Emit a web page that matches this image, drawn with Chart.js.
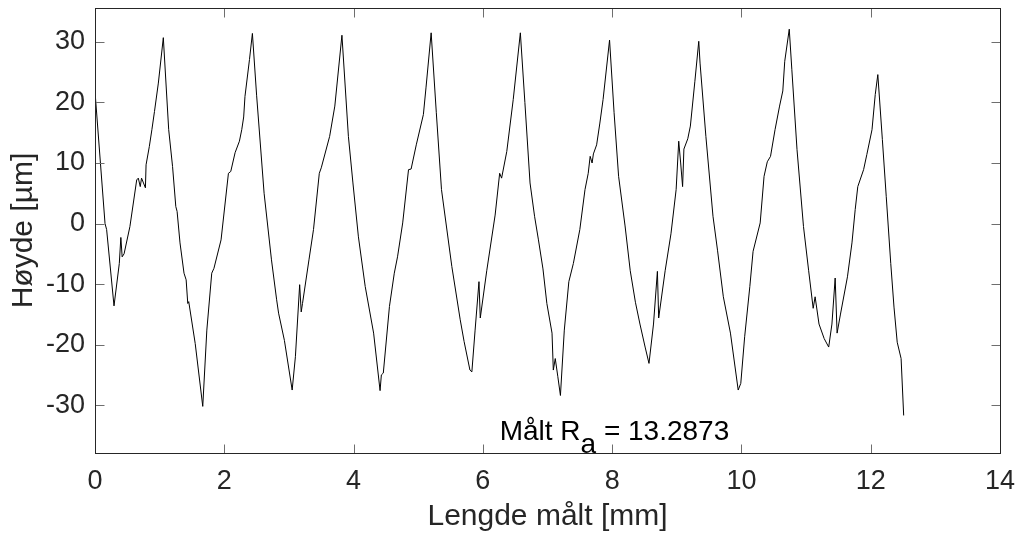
<!DOCTYPE html>
<html>
<head>
<meta charset="utf-8">
<script src="https://cdn.jsdelivr.net/npm/chart.js@4.4.1/dist/chart.umd.min.js"></script>
<style>
  html, body { margin: 0; padding: 0; background: #fff; }
  #wrap { width: 1019px; height: 535px; }
</style>
</head>
<body>
<div id="wrap"><canvas id="profil" width="1019" height="535"></canvas></div>
<script>
// Profilmåling: lengde (mm) og høyde (µm), lest av figuren
const lengdeMm = [
    0.00, 0.155, 0.18, 0.294, 0.376, 0.40, 0.42, 0.45, 0.54, 0.645,
    0.67, 0.70, 0.72, 0.75, 0.78, 0.79, 0.84, 0.88, 0.92, 0.98,
    1.057, 1.14, 1.20, 1.25, 1.27, 1.315, 1.377, 1.41, 1.435, 1.45,
    1.55, 1.667, 1.73, 1.806, 1.84, 1.95, 2.064, 2.10, 2.167, 2.234,
    2.27, 2.30, 2.32, 2.39, 2.435, 2.50, 2.616, 2.73, 2.81, 2.84,
    2.93, 3.05, 3.10, 3.166, 3.19, 3.21, 3.31, 3.38, 3.47, 3.50,
    3.63, 3.71, 3.82, 3.92, 3.99, 4.075, 4.18, 4.31, 4.41, 4.43,
    4.46, 4.555, 4.63, 4.68, 4.76, 4.85, 4.89, 4.97, 5.08, 5.12,
    5.20, 5.28, 5.36, 5.52, 5.65, 5.71, 5.80, 5.83, 5.88, 5.94,
    5.96, 6.06, 6.19, 6.26, 6.29, 6.37, 6.47, 6.58, 6.65, 6.73,
    6.80, 6.86, 6.93, 6.99, 7.07, 7.09, 7.12, 7.16, 7.20, 7.26,
    7.33, 7.40, 7.50, 7.58, 7.63, 7.66, 7.69, 7.71, 7.76, 7.81,
    7.86, 7.96, 8.03, 8.10, 8.20, 8.28, 8.36, 8.43, 8.51, 8.57,
    8.64, 8.70, 8.72, 8.82, 8.91, 8.99, 9.03, 9.06, 9.09, 9.11,
    9.17, 9.21, 9.28, 9.34, 9.36, 9.45, 9.56, 9.63, 9.72, 9.83,
    9.95, 9.99, 10.05, 10.13, 10.18, 10.29, 10.35, 10.40, 10.45, 10.52,
    10.59, 10.64, 10.67, 10.74, 10.78, 10.86, 10.96, 11.04, 11.11, 11.14,
    11.20, 11.28, 11.35, 11.40, 11.45, 11.48, 11.53, 11.64, 11.71, 11.76,
    11.80, 11.89, 11.94, 12.02, 12.07, 12.11, 12.18, 12.24, 12.31, 12.36,
    12.41, 12.47, 12.51
];
const hoydeUm = [
    21.8, 0.0, -1.0, -13.6, -6.6, -2.3, -5.5, -5.0, -0.5, 7.2,
    7.5, 6.1, 7.5, 6.7, 5.9, 9.7, 12.7, 15.5, 18.5, 23.2,
    30.7, 15.5, 9.4, 2.8, 2.0, -3.2, -8.2, -9.3, -13.2, -12.9,
    -19.8, -30.2, -17.6, -8.2, -7.4, -2.7, 8.3, 8.6, 11.7, 13.6,
    15.5, 17.6, 21.0, 27.1, 31.4, 21.2, 5.0, -6.0, -12.6, -14.8,
    -19.3, -27.5, -22.0, -10.1, -14.6, -13.2, -6.0, -1.0, 8.3, 9.2,
    14.4, 19.4, 31.1, 14.4, 6.7, -2.2, -10.4, -18.1, -27.6, -25.0,
    -24.7, -13.7, -8.2, -5.5, 0.1, 8.9, 9.0, 13.0, 18.0, 22.4,
    31.5, 18.3, 5.6, -7.1, -15.9, -19.5, -24.2, -24.5, -17.6, -9.6,
    -15.6, -7.8, 1.4, 8.3, 7.5, 11.9, 20.5, 31.5, 20.0, 6.7,
    1.2, -2.7, -7.5, -13.2, -18.1, -24.2, -22.3, -25.3, -28.4, -17.6,
    -9.6, -6.6, -1.0, 5.6, 8.3, 11.1, 10.0, 11.5, 13.0, 16.6,
    20.5, 30.3, 18.3, 7.8, -0.4, -7.8, -13.0, -16.6, -20.4, -23.1,
    -16.6, -7.9, -15.6, -7.8, -1.7, 5.6, 13.6, 10.0, 6.1, 12.3,
    14.0, 16.1, 23.5, 30.1, 26.5, 14.4, 1.2, -4.4, -12.1, -18.1,
    -27.5, -26.4, -18.7, -10.4, -4.6, 0.1, 7.8, 10.2, 11.1, 15.5,
    19.4, 21.9, 26.8, 32.1, 25.4, 12.2, -0.5, -7.8, -14.0, -12.1,
    -16.6, -19.0, -20.4, -16.6, -9.0, -18.1, -15.1, -8.8, -3.2, 2.3,
    6.1, 8.9, 11.4, 15.5, 21.3, 24.6, 13.9, 4.5, -6.6, -13.8,
    -19.6, -22.3, -31.7
];

const xTicks = [0, 2, 4, 6, 8, 10, 12, 14];
const yTicks = [-30, -20, -10, 0, 10, 20, 30];
const xGrense = [0, 14];
const yGrense = [-37.9, 35.6];

// tekst "Målt R_a = 13.2873" (data-koordinater for venstre grunnlinje)
const raTekst = ['Målt R', 'a', ' = 13.2873'];
const raPos = [6.26, -35.8];

const AKSE_FARGE = '#262626';
const FONT = "'Liberation Sans', Arial, Helvetica, sans-serif";

// MATLAB-aktig boks med innovervendte tick-merker
const boksPlugin = {
    id: 'boks',
    afterDatasetsDraw(chart) {
        const { ctx, chartArea: a, scales } = chart;
        const r = v => Math.round(v) + 0.5;
        const len = 9;
        ctx.save();
        ctx.lineWidth = 1;
        ctx.strokeStyle = '#6e6e6e';
        ctx.beginPath();
        xTicks.forEach(v => {
            const px = r(scales.x.getPixelForValue(v));
            ctx.moveTo(px, r(a.bottom)); ctx.lineTo(px, r(a.bottom) - len);
            ctx.moveTo(px, r(a.top)); ctx.lineTo(px, r(a.top) + len);
        });
        yTicks.forEach(v => {
            const py = r(scales.y.getPixelForValue(v));
            ctx.moveTo(r(a.left), py); ctx.lineTo(r(a.left) + len, py);
            ctx.moveTo(r(a.right), py); ctx.lineTo(r(a.right) - len, py);
        });
        ctx.stroke();
        ctx.strokeStyle = AKSE_FARGE;
        ctx.strokeRect(r(a.left), r(a.top), Math.round(a.right) - Math.round(a.left), Math.round(a.bottom) - Math.round(a.top));

        // Ra-teksten
        const x0 = scales.x.getPixelForValue(raPos[0]);
        const y0 = scales.y.getPixelForValue(raPos[1]);
        ctx.fillStyle = '#000';
        ctx.font = '28px ' + FONT;
        ctx.textAlign = 'left';
        ctx.textBaseline = 'alphabetic';
        ctx.fillText(raTekst[0], x0, y0);
        const w0 = ctx.measureText(raTekst[0]).width;
        ctx.fillText(raTekst[1], x0 + w0, y0 + 13);
        const w1 = ctx.measureText(raTekst[1]).width;
        ctx.fillText(raTekst[2], x0 + w0 + w1, y0);
        ctx.restore();
    }
};

new Chart(document.getElementById('profil'), {
    type: 'scatter',
    data: {
        datasets: [{
            data: lengdeMm.map((x, i) => ({ x, y: hoydeUm[i] })),
            showLine: true,
            borderColor: '#000',
            borderWidth: 1,
            pointRadius: 0,
            tension: 0
        }]
    },
    options: {
        responsive: false,
        animation: false,
        layout: { padding: { top: 8, right: 19, left: 0, bottom: 0 } },
        plugins: {
            legend: { display: false },
            tooltip: { enabled: false }
        },
        scales: {
            x: {
                type: 'linear',
                min: xGrense[0],
                max: xGrense[1],
                afterBuildTicks: s => { s.ticks = xTicks.map(v => ({ value: v })); },
                afterFit: s => { s.height = 82; s.paddingLeft = 0; s.paddingRight = 0; },
                grid: { display: false, drawTicks: false },
                border: { display: false },
                ticks: { color: AKSE_FARGE, padding: 12, maxRotation: 0, font: { family: FONT, size: 27 } },
                title: {
                    display: true,
                    text: 'Lengde målt [mm]',
                    color: AKSE_FARGE,
                    padding: { top: 0, bottom: 0 },
                    font: { family: FONT, size: 30 }
                }
            },
            y: {
                type: 'linear',
                min: yGrense[0],
                max: yGrense[1],
                afterBuildTicks: s => { s.ticks = yTicks.map(v => ({ value: v })); },
                afterFit: s => { s.width = 95; s.paddingTop = 0; s.paddingBottom = 0; },
                grid: { display: false, drawTicks: false },
                border: { display: false },
                ticks: { color: AKSE_FARGE, padding: 10, font: { family: FONT, size: 27 } },
                title: {
                    display: true,
                    text: 'Høyde [µm]',
                    color: AKSE_FARGE,
                    padding: { top: 6, bottom: 0 },
                    font: { family: FONT, size: 30 }
                }
            }
        }
    },
    plugins: [boksPlugin]
});
</script>
</body>
</html>
